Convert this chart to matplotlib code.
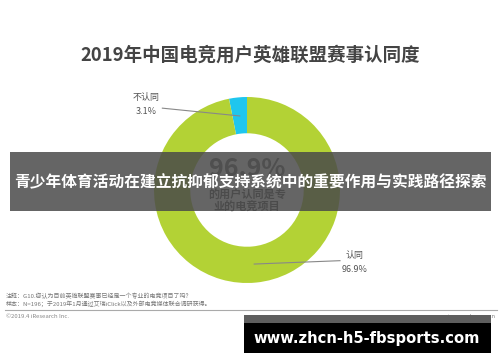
import numpy as np
import matplotlib.pyplot as plt
from matplotlib.patches import Rectangle

plt.rcParams['font.family'] = ['Noto Sans CJK SC', 'DejaVu Sans']

# data
labels = ['不认同', '认同']
shares = [3.1, 96.9]
colors = ['#1fc6ee', '#b3d235']
title = '2019年中国电竞用户英雄联盟赛事认同度'
banner = '青少年体育活动在建立抗抑郁支持系统中的重要作用与实践路径探索'
notes = ['注释：G10.您认为目前英雄联盟赛事已经是一个专业的电竞项目了吗？',
         '样本：N=196；于2019年1月通过艾瑞iClick以及外部电竞媒体联合调研获得。']
site = 'www.zhcn-h5-fbsports.com'

W, H = 500, 362
fig = plt.figure(figsize=(W / 100, H / 100), dpi=100)

def px(x, y):
    # pixel coords from top-left -> figure fraction
    return x / W, 1 - y / H

# donut axes: radius 93 px, centre (247, 190)
R, cx, cy, lim = 93, 247, 190, 1.2
side = 2 * lim * R
ax = fig.add_axes([(cx - side / 2) / W, (H - cy - side / 2) / H, side / W, side / H])
wedges, _ = ax.pie(shares, colors=colors, startangle=90, counterclock=True,
                   wedgeprops=dict(width=0.39, linewidth=0))
ax.set_xlim(-lim, lim)
ax.set_ylim(-lim, lim)
ax.set_aspect('equal')
ax.axis('off')

# leader labels
label_pos = [(-1.08, 0.92), (1.16, -0.78)]
line_end = [(-0.91, 0.88), (1.0, -0.76)]
for w, lab, val, tp, le in zip(wedges, labels, shares, label_pos, line_end):
    ang = np.deg2rad((w.theta1 + w.theta2) / 2)
    p = (0.8 * np.cos(ang), 0.8 * np.sin(ang))
    ax.plot([le[0], p[0]], [le[1], p[1]], color='#888888', lw=0.8)
    ax.text(tp[0], tp[1], f'{lab}\n{val}%', ha='center', va='center',
            fontsize=6.5, color='#555555', linespacing=1.6)

# centre text
ax.text(0, 0.23, f'{shares[1]}%', ha='center', va='center', fontsize=18,
        fontweight='bold', color='#6b6b6b')
ax.text(0, -0.12, '的用户认同是专\n业的电竞项目', ha='center', va='center',
        fontsize=8, fontweight='bold', color='#555555', linespacing=0.95)

# title
fig.text(*px(250, 55), title, ha='center', va='center', fontsize=13.3,
         fontweight='bold', color='#444444')

# banner overlay
fig.patches.append(Rectangle(px(10, 211), 481 / W, 59 / H, transform=fig.transFigure,
                             facecolor='#4a4a4a', alpha=0.85, zorder=5))
fig.text(*px(250, 182), banner, ha='center', va='center', fontsize=11.3,
         fontweight='bold', color='white', zorder=6)

# footer
for i, n in enumerate(notes):
    fig.text(*px(6, 296 + 8 * i), n, ha='left', va='center', fontsize=4.3, color='#777777')
fig.add_artist(plt.Line2D([5 / W, 497 / W], [1 - 310 / H] * 2, color='#aaaaaa', lw=0.8))
fig.text(*px(6, 316), '©2019.4 iResearch Inc.', ha='left', va='center', fontsize=4.3, color='#888888')
fig.text(*px(496, 316), 'www.iresearch.com.cn', ha='right', va='center', fontsize=4.3, color='#888888')

# watermark box
fig.patches.append(Rectangle(px(244, 323), 247 / W, 8 / H, transform=fig.transFigure,
                             facecolor='#5e5e5e', zorder=5))
fig.patches.append(Rectangle(px(244, 353), 247 / W, 30 / H, transform=fig.transFigure,
                             facecolor='black', zorder=5))
fig.text(*px(367, 338), site, ha='center', va='center', fontsize=10.6,
         fontweight='bold', color='white', family='DejaVu Sans', zorder=6)

fig.savefig('out.png', dpi=100, facecolor='white')
